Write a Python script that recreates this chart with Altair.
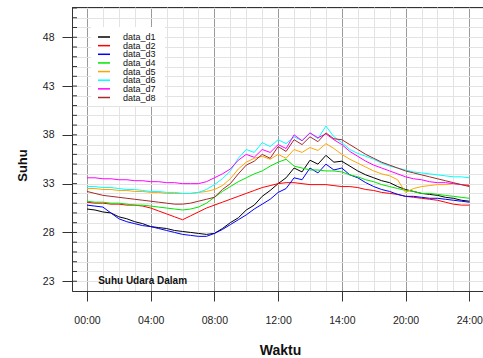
import altair as alt
import pandas as pd

# hours 0..24 every half hour
hours = [i * 0.5 for i in range(49)]

series_names = ["data_d1", "data_d2", "data_d3", "data_d4",
                "data_d5", "data_d6", "data_d7", "data_d8"]
series_colors = ["#000000", "#ff0000", "#0000ff", "#00e600",
                 "#ffa500", "#00ffff", "#ff00ff", "#a52a2a"]

d1 = [30.4, 30.3, 30.1, 30.0, 29.6, 29.4, 29.1, 28.9,
      28.6, 28.5, 28.4, 28.2, 28.1, 28.0, 27.9, 27.8,
      27.9, 28.4, 29.0, 29.5, 30.3, 30.8, 31.7, 32.3,
      33.0, 33.6, 34.6, 34.2, 35.4, 35.0, 35.9, 35.2,
      35.3, 34.8, 34.3, 33.9, 33.6, 33.3, 33.1, 32.7,
      32.4, 32.2, 32.0, 31.9, 31.8, 31.6, 31.5, 31.3,
      31.2]
d2 = [31.1, 31.0, 31.0, 30.9, 30.9, 30.8, 30.8, 30.7,
      30.5, 30.2, 29.9, 29.6, 29.3, 29.7, 30.1, 30.5,
      30.8, 31.1, 31.4, 31.7, 32.0, 32.3, 32.6, 32.8,
      33.0, 33.1, 33.1, 33.0, 32.9, 32.9, 32.9, 32.8,
      32.7, 32.7, 32.6, 32.4, 32.3, 32.1, 32.0, 31.9,
      31.7, 31.6, 31.5, 31.4, 31.3, 31.1, 30.9, 30.8,
      30.8]
d3 = [30.8, 30.7, 30.6, 30.0, 29.4, 29.1, 28.9, 28.7,
      28.6, 28.4, 28.2, 28.0, 27.8, 27.7, 27.6, 27.6,
      27.9, 28.3, 28.8, 29.3, 29.8, 30.4, 30.9, 31.4,
      32.1, 32.5, 33.6, 33.4, 34.6, 34.1, 35.0, 34.4,
      34.6, 33.9, 33.6, 33.1, 32.7, 32.4, 32.2, 31.9,
      31.7, 31.7, 31.6, 31.5, 31.5, 31.4, 31.3, 31.2,
      31.1]
d4 = [31.2, 31.1, 31.1, 31.0, 31.0, 30.9, 30.8, 30.8,
      30.7, 30.6, 30.5, 30.4, 30.3, 30.4, 30.6, 31.0,
      31.6, 32.2, 32.7, 33.2, 33.6, 34.0, 34.3, 34.8,
      35.2, 35.5, 34.8, 34.6, 34.4, 34.4, 34.3, 34.3,
      34.2, 33.9, 33.7, 33.4, 33.2, 32.9, 32.7, 32.5,
      32.3, 32.2, 32.0, 32.0, 31.9, 31.8, 31.7, 31.6,
      31.5]
d5 = [32.5, 32.5, 32.4, 32.4, 32.3, 32.3, 32.2, 32.2,
      32.1, 32.1, 32.0, 32.0, 32.0, 32.0, 32.1, 32.2,
      32.4, 32.8, 33.5, 34.5, 35.2, 35.6, 35.8, 35.5,
      36.0, 35.6, 36.5, 36.2, 36.7, 36.4, 37.1, 36.6,
      36.0, 35.5, 35.1, 34.7, 34.3, 34.0, 33.8, 33.4,
      32.1, 32.5, 32.7, 32.8, 32.9, 32.9, 33.0, 32.9,
      32.9]
d6 = [32.7, 32.7, 32.6, 32.6, 32.5, 32.4, 32.4, 32.3,
      32.2, 32.2, 32.1, 32.1, 32.0, 32.0, 32.1, 32.4,
      32.9, 33.5, 34.3, 35.6, 36.5, 36.2, 37.2, 36.8,
      37.5, 37.1, 37.8, 37.4, 38.2, 37.6, 38.9, 37.8,
      37.2, 36.5, 36.1, 35.8, 35.5, 35.1, 34.8, 34.6,
      34.4, 34.2, 34.1, 34.0, 33.9, 33.8, 33.7, 33.7,
      33.6]
d7 = [33.6, 33.6, 33.5, 33.5, 33.4, 33.4, 33.3, 33.3,
      33.2, 33.2, 33.1, 33.1, 33.0, 33.0, 33.0, 33.2,
      33.6, 34.0, 34.5, 35.4, 36.0, 35.7, 36.5, 36.2,
      37.0, 36.6, 38.0, 37.4, 38.2, 37.7, 38.1, 37.5,
      37.0, 36.3, 35.8, 35.3, 34.9, 34.6, 34.3, 34.0,
      33.7, 33.5, 33.4, 33.2, 33.1, 33.1, 33.0, 32.9,
      32.8]
d8 = [32.2, 32.0, 31.8, 31.7, 31.6, 31.5, 31.4, 31.3,
      31.2, 31.1, 31.0, 30.9, 30.9, 31.0, 31.2, 31.4,
      31.6, 32.4, 33.0, 34.0, 34.9, 35.3, 36.0, 35.6,
      36.8, 36.3, 37.5, 37.0, 37.8, 37.3, 38.2, 37.6,
      37.5, 37.0, 36.5, 36.0, 35.6, 35.2, 34.9, 34.6,
      34.3, 34.1, 33.9, 33.7, 33.5, 33.3, 33.1, 32.9,
      32.7]

major_hours = [0, 4, 8, 12, 16, 20, 24]
major_labels = ["00:00", "04:00", "08:00", "12:00", "14:00", "20:00", "24:00"]
y_major = [23, 28, 33, 38, 43, 48]

rows = []
for name, vals in zip(series_names, [d1, d2, d3, d4, d5, d6, d7, d8]):
    for h, v in zip(hours, vals):
        rows.append({"jam": h, "suhu": v, "seri": name})
df = pd.DataFrame(rows)

FONT = "Liberation Sans"
x_scale = alt.Scale(domain=[-0.94, 24.86], nice=False, zero=False)
y_scale = alt.Scale(domain=[22.0, 51.1], nice=False, zero=False)
color_scale = alt.Scale(domain=series_names, range=series_colors)

x_label_expr = " : ".join(
    [f"round(datum.value) == {h} ? '{lab}'" for h, lab in zip(major_hours, major_labels)]
) + " : ''"
x_test = "round(datum.value) % 4 == 0"
y_test = "(round(datum.value) - 23) % 5 == 0"

x_axis = alt.Axis(
    values=list(range(0, 25)),
    labelExpr=x_label_expr,
    labelFont=FONT, labelFontSize=10.5, labelColor="#222",
    labelPadding=14, labelFlush=False, labelOverlap=False,
    tickSize=10,
    tickColor={"condition": {"test": x_test, "value": "#333"}, "value": "transparent"},
    grid=True,
    gridColor={"condition": {"test": x_test, "value": "#9a9a9a"}, "value": "#e3e3e3"},
    gridWidth=1,
    domainColor="#333",
    title="Waktu", titleFont=FONT, titleFontSize=14, titleFontWeight="bold",
    titleColor="#111", titleX=208, titleY=59, titleAlign="center", titleBaseline="middle",
)
y_axis = alt.Axis(
    values=list(range(22, 52)),
    labelExpr=f"{y_test} ? datum.label : ''",
    labelFont=FONT, labelFontSize=10.5, labelColor="#222",
    labelPadding=8, labelFlush=False, labelOverlap=False,
    tickSize=10,
    tickColor={"condition": {"test": y_test, "value": "#333"}, "value": "transparent"},
    grid=True, gridColor="#e3e3e3", gridWidth=1,
    domainColor="#333",
    title="Suhu", titleFont=FONT, titleFontSize=13, titleFontWeight="bold",
    titleColor="#111", titleX=-50, titleY=158, titleAlign="center", titleBaseline="middle",
    titleAngle=270,
)

X = alt.X("jam:Q", scale=x_scale, axis=x_axis)
Y = alt.Y("suhu:Q", scale=y_scale, axis=y_axis)
Y_noaxis = alt.Y("suhu:Q", scale=y_scale, axis=None)

lines = alt.Chart(df).mark_line(strokeWidth=1, clip=True).encode(
    x=X,
    y=Y,
    color=alt.Color("seri:N", scale=color_scale, legend=None),
)

inner_ticks_df = pd.DataFrame({"suhu": list(range(23, 52))})
inner_ticks = alt.Chart(inner_ticks_df).mark_rule(color="#333", strokeWidth=1).encode(
    y=Y_noaxis,
    x=alt.value(0),
    x2=alt.value(5),
)

note_df = pd.DataFrame({"jam": [0.7], "suhu": [23.07], "teks": ["Suhu Udara Dalam"]})
note = alt.Chart(note_df).mark_text(
    align="left", baseline="middle", fontWeight="bold", fontSize=10,
    font=FONT, color="#111",
).encode(x=X, y=Y_noaxis, text="teks:N")

# legend drawn as its own small layers (white box, line swatches, labels)
legend_df = pd.DataFrame({"seri": series_names})
legend_y = alt.Y("seri:N", scale=alt.Scale(type="point", domain=series_names,
                                          range=[30, 90.5], padding=0), axis=None)
legend_box = alt.Chart(pd.DataFrame({"k": [0]})).mark_rect(fill="white", stroke=None).encode(
    x=alt.value(19), x2=alt.value(93), y=alt.value(20), y2=alt.value(99),
)
legend_lines = alt.Chart(legend_df).mark_rule(strokeWidth=1.5).encode(
    y=legend_y, x=alt.value(26), x2=alt.value(38),
    color=alt.Color("seri:N", scale=color_scale, legend=None),
)
legend_text = alt.Chart(legend_df).mark_text(
    align="left", baseline="middle", fontSize=9, font=FONT, color="#111",
).encode(y=legend_y, x=alt.value(51), text="seri:N")

chart = alt.layer(lines, inner_ticks, note, legend_box, legend_lines, legend_text).resolve_scale(
    y="independent"
).properties(
    width=411, height=284,
    autosize=alt.AutoSizeParams(type="none"),
    padding={"left": 72, "top": 7, "right": 0, "bottom": 67},
    background="white",
).configure_view(stroke="#333", strokeWidth=1)

chart.save("out.html", embed_options={"renderer": "svg", "actions": False})
